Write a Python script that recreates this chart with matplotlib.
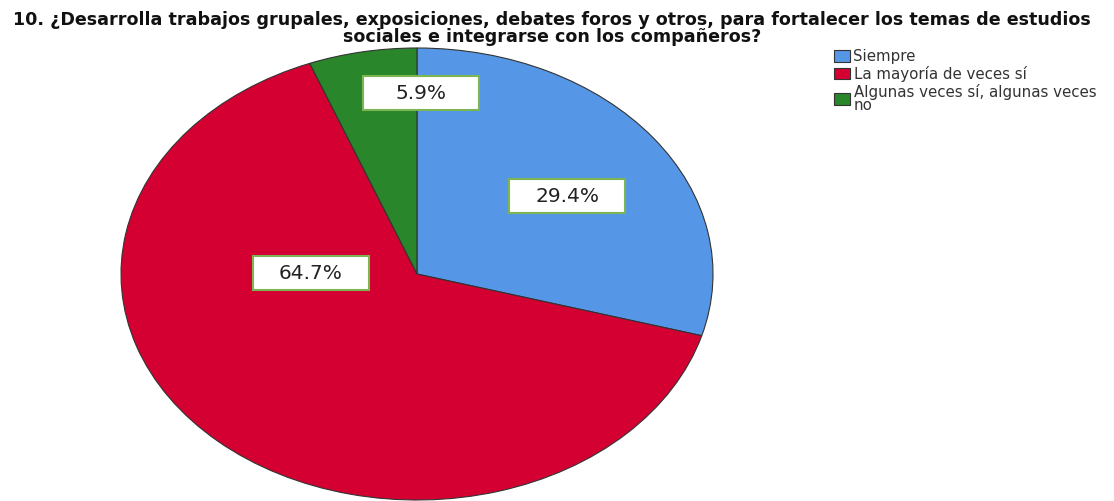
import matplotlib
matplotlib.use("Agg")
import matplotlib.pyplot as plt
from matplotlib.patches import Rectangle

categories = ["Siempre", "La mayoría de veces sí", "Algunas veces sí, algunas veces\nno"]
values = [29.4, 64.7, 5.9]
labels = ["29.4%", "64.7%", "5.9%"]
colors = ["#5597E6", "#D50032", "#2A862A"]
title = ("10. ¿Desarrolla trabajos grupales, exposiciones, debates foros y otros, para fortalecer los temas de estudios\n"
         "sociales e integrarse con los compañeros?")

W, H = 1114, 501
fig = plt.figure(figsize=(W / 100, H / 100), dpi=100)
cx, cy, rx, ry = 417, 274, 296, 226
ax = fig.add_axes([(cx - rx) / W, (H - cy - ry) / H, 2 * rx / W, 2 * ry / H])
wedges, _ = ax.pie(values, colors=colors, startangle=90, counterclock=False,
                   radius=1, wedgeprops=dict(edgecolor="#333333", linewidth=0.8))
ax.set_xlim(-1, 1)
ax.set_ylim(-1, 1)
ax.set_aspect("auto")
ax.axis("off")

# label positions (axes-normalised pie coordinates)
label_pos = [(0.507, 0.345), (-0.358, 0.004), (0.014, 0.80)]
bw, bh = 116 / rx, 34 / ry
for (x, y), t in zip(label_pos, labels):
    ax.add_patch(Rectangle((x - bw / 2, y - bh / 2), bw, bh, facecolor="white",
                           edgecolor="#7DB552", linewidth=1.5, zorder=5))
    ax.text(x, y, t, ha="center", va="center", fontsize=14.5, color="#222222",
            family="DejaVu Sans", zorder=6)

fig.text(552 / W, 1 - 11 / H, title, ha="center", va="top", fontsize=12.6,
         fontweight="bold", family="DejaVu Sans", color="#111111",
         linespacing=0.9)

handles = [Rectangle((0, 0), 1, 1, facecolor=c, edgecolor="#333333", linewidth=0.8) for c in colors]
leg = fig.legend(handles, categories, loc="upper left", bbox_to_anchor=(834 / W, 1 - 49 / H),
                 frameon=False, prop=dict(family="DejaVu Sans", size=10.8),
                 handlelength=1.05, handleheight=0.8, handletextpad=0.25,
                 labelspacing=0.12, borderpad=0, borderaxespad=0)
for t in leg.get_texts():
    t.set_color("#333333")
    t.set_linespacing(0.85)

fig.savefig("out.png", dpi=100)
